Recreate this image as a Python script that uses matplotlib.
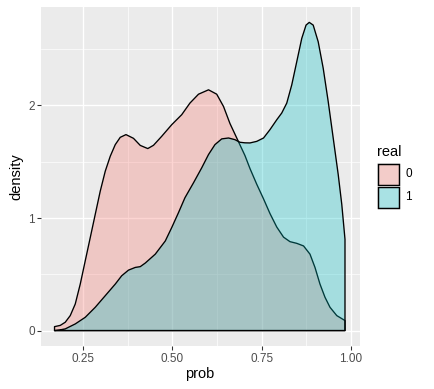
import matplotlib
matplotlib.use('Agg')
matplotlib.rc('font', family='Liberation Sans')
from matplotlib import pyplot
from matplotlib.patches import Rectangle

W, H, DPI = 434, 389, 96

# density of prob for real == 0
red_x = [0.170, 0.186, 0.200, 0.214, 0.228, 0.242, 0.256, 0.270, 0.284, 0.298,
         0.312, 0.326, 0.340, 0.354, 0.370, 0.391, 0.410, 0.431, 0.447, 0.470,
         0.498, 0.526, 0.549, 0.573, 0.601, 0.624, 0.643, 0.661, 0.675, 0.689,
         0.703, 0.717, 0.736, 0.755, 0.773, 0.792, 0.811, 0.829, 0.848, 0.867,
         0.885, 0.899, 0.913, 0.927, 0.941, 0.960, 0.983]
red_y = [0.035, 0.046, 0.074, 0.133, 0.236, 0.413, 0.620, 0.826, 1.033, 1.239,
         1.416, 1.549, 1.652, 1.717, 1.741, 1.708, 1.645, 1.617, 1.646, 1.726,
         1.829, 1.918, 2.021, 2.100, 2.139, 2.100, 1.991, 1.840, 1.745, 1.650,
         1.555, 1.440, 1.300, 1.170, 1.040, 0.920, 0.830, 0.790, 0.775, 0.752,
         0.679, 0.561, 0.413, 0.296, 0.207, 0.133, 0.089]

# density of prob for real == 1
blue_x = [0.170, 0.185, 0.200, 0.228, 0.256, 0.284, 0.312, 0.340, 0.358, 0.377,
          0.396, 0.410, 0.424, 0.452, 0.480, 0.498, 0.517, 0.535, 0.559, 0.582,
          0.601, 0.619, 0.638, 0.657, 0.675, 0.689, 0.703, 0.717, 0.736, 0.755,
          0.773, 0.792, 0.806, 0.820, 0.834, 0.848, 0.862, 0.874, 0.883, 0.894,
          0.908, 0.922, 0.936, 0.950, 0.964, 0.974, 0.983]
blue_y = [0.000, 0.006, 0.015, 0.059, 0.118, 0.207, 0.310, 0.413, 0.487, 0.537,
          0.561, 0.568, 0.600, 0.679, 0.796, 0.915, 1.048, 1.180, 1.313, 1.446,
          1.564, 1.652, 1.703, 1.711, 1.696, 1.673, 1.668, 1.667, 1.681, 1.711,
          1.785, 1.873, 1.933, 2.021, 2.183, 2.389, 2.596, 2.714, 2.738, 2.714,
          2.566, 2.331, 2.035, 1.711, 1.387, 1.121, 0.811]

groups = ['0', '1']
colors = ['#F8766D', '#00BFC4']
alpha = 0.3

x_ticks = [0.25, 0.50, 0.75, 1.00]
x_labels = ['0.25', '0.50', '0.75', '1.00']
y_ticks = [0, 1, 2]

fig = pyplot.figure(figsize=(W / DPI, H / DPI), dpi=DPI)
left, right, top, bottom = 41.3, 360.0, 7.3, 346.0
ax = fig.add_axes([left / W, 1 - bottom / H, (right - left) / W, (bottom - top) / H])
ax.set_facecolor('#EBEBEB')
for s in ax.spines.values():
    s.set_visible(False)

for xs, ys, c in [(red_x, red_y, colors[0]), (blue_x, blue_y, colors[1])]:
    px = list(xs) + [xs[-1], xs[0]]
    py = list(ys) + [0, 0]
    ax.fill(px, py, facecolor=matplotlib.colors.to_rgba(c, alpha),
            edgecolor='black', linewidth=1.0, joinstyle='round', zorder=3)

ax.set_xlim(0.133, 1.025)
ax.set_ylim(-0.137, 2.872)
ax.set_xticks(x_ticks)
ax.set_xticklabels(x_labels)
ax.set_yticks(y_ticks)
ax.set_xticks([0.375, 0.625, 0.875], minor=True)
ax.set_yticks([0.5, 1.5, 2.5], minor=True)
ax.grid(True, which='major', color='white', linewidth=1.0)
ax.grid(True, which='minor', color='white', linewidth=0.5)
ax.set_axisbelow(True)
ax.tick_params(which='major', length=2.75, width=0.8, color='#333333',
               labelsize=8.8, labelcolor='#4D4D4D', pad=2.2)
ax.tick_params(which='minor', length=0)

fig.text(200 / W, 1 - 374 / H, 'prob', ha='center', va='center', fontsize=11)
fig.text(16.7 / W, 1 - 176.6 / H, 'density', ha='center', va='center',
         fontsize=11, rotation=90)

# legend
fig.text(377 / W, 1 - 152 / H, 'real', ha='left', va='center', fontsize=11)
for i, (g, c) in enumerate(zip(groups, colors)):
    y0 = 162.5 + i * 23
    fig.add_artist(Rectangle((377 / W, 1 - (y0 + 23) / H), 23 / W, 23 / H,
                             transform=fig.transFigure, facecolor='#F2F2F2',
                             edgecolor='none'))
    fig.add_artist(Rectangle((378 / W, 1 - (y0 + 22) / H), 21 / W, 21 / H,
                             transform=fig.transFigure,
                             facecolor=matplotlib.colors.to_rgba(c, alpha),
                             edgecolor='black', linewidth=1.1))
    fig.text(405 / W, 1 - (y0 + 11.5) / H, g, ha='left', va='center',
             fontsize=8.8)

pyplot.savefig('out.png', dpi=DPI)
